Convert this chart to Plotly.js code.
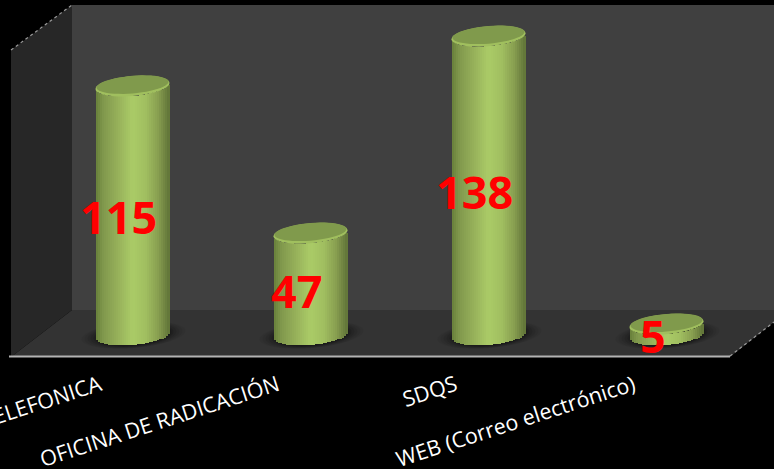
<!DOCTYPE html>
<html>
<head>
<meta charset="utf-8">
<script src="https://cdn.plot.ly/plotly-3.0.1.min.js"></script>
<style>html,body{margin:0;padding:0;background:#000;overflow:hidden}#chart{width:774px;height:469px}</style>
</head>
<body>
<div id="chart"></div>
<script>
var categories = ['TELEFONICA', 'OFICINA DE RADICACIÓN', 'SDQS', 'WEB (Correo electrónico)'];
var values = [115, 47, 138, 5];
var positions = [0, 1, 2, 3];

// Cross-section shading of the cylinders, left edge to right edge
var shadeStops = [[0,[104,128,58]],[0.1,[128,152,76]],[0.3,[150,176,90]],[0.5,[170,203,103]],[0.68,[160,190,96]],[0.85,[136,158,80]],[1,[96,116,56]]];

var W = 774, H = 469, plotH = 357;
var pxPerCat = 178, pxPerUnit = 2.165;
var firstCatPx = 132.5, zeroPx = 335;
var radX = 37, radY = 10, tilt = -3;
var stripCount = 36;

function shade(t) {
  for (var i = 1; i < shadeStops.length; i++) {
    if (t <= shadeStops[i][0]) {
      var a = shadeStops[i-1], b = shadeStops[i], f = (t-a[0])/(b[0]-a[0]);
      return 'rgb(' + a[1].map(function(c,k){return Math.round(c+(b[1][k]-c)*f);}).join(',') + ')';
    }
  }
  return 'rgb(96,116,56)';
}

var traces = [];
for (var s = 0; s < stripCount; s++) {
  var t0 = s/stripCount, t1 = (s+1)/stripCount, tm = (t0+t1)/2, u = tm*2-1;
  var dropPx = radY*Math.sqrt(Math.max(0,1-u*u)) + tilt*u;
  traces.push({
    type: 'bar',
    x: positions,
    y: values,
    base: values.map(function(){return -dropPx/pxPerUnit;}),
    width: (t1-t0)*2*radX/pxPerCat*1.12,
    offset: (u*radX)/pxPerCat - (t1-t0)*radX/pxPerCat,
    marker: {color: shade(tm), line: {width: 0}},
    hoverinfo: 'skip',
    showlegend: false
  });
}

function px(x){return x/W;}
function py(y){return (plotH-y)/plotH;}
function poly(pts){
  return 'M' + pts.map(function(p){return px(p[0])+','+py(p[1]);}).join('L') + 'Z';
}
function backdrop(pts,color){
  return {type:'path',xref:'paper',yref:'paper',layer:'below',path:poly(pts),fillcolor:color,line:{width:0}};
}
function edge(x0,y0,x1,y1,color,width,dash){
  return {type:'line',xref:'paper',yref:'paper',layer:'below',x0:px(x0),y0:py(y0),x1:px(x1),y1:py(y1),line:{color:color,width:width,dash:dash||'solid'}};
}
function ellipse(cat,val,rx,ry,dxPx,dyPx,color,layer,opacity){
  var d = '';
  for (var k = 0; k < 48; k++) {
    var a = k/48*2*Math.PI;
    var ex = rx*Math.cos(a) + dxPx, ey = ry*Math.sin(a) + tilt*(rx/radX)*Math.cos(a) + dyPx;
    d += (k?'L':'M') + (cat+ex/pxPerCat) + ',' + (val-ey/pxPerUnit);
  }
  return {type:'path',xref:'x',yref:'y',layer:layer,path:d+'Z',fillcolor:color,opacity:opacity,line:{width:0}};
}

var shapes = [
  backdrop([[72,5],[W,5],[W,310],[72,310]],'#404040'),
  backdrop([[72,310],[W,310],[W,322],[730,357],[11,357]],'#333333'),
  backdrop([[11,50],[72,5],[72,310],[11,357]],'#272727'),
  edge(11,50,72,5,'#9a9a9a',1.2,'dot'),
  edge(730,356,W,322,'#9a9a9a',1.2,'dot'),
  edge(9,356.5,730,356.5,'#b4b4b4',2)
];
positions.forEach(function(c,i){
  [[15,3,0.05],[12,3,0.06],[9,2.5,0.07],[6,2,0.09],[3,1.5,0.11],[1,1,0.14]].forEach(function(g){
    shapes.push(ellipse(c,0,radX+g[0],radY+g[1],1,0,'#000000','below',g[2]));
  });
  shapes.push(ellipse(c,values[i],radX,radY,0,0,'#a0bf5e','above',1));
  shapes.push(ellipse(c,values[i],radX-1,radY-1.2,0,-1.4,'#809a4c','above',1));
});

var annotations = positions.map(function(c,i){
  return {x:c,y:values[i]/2,xref:'x',yref:'y',text:String(values[i]),showarrow:false,
    xshift:-14,yshift:-6,font:{family:'"Open Sans", sans-serif',size:45,color:'#ff0000',weight:700}};
});

var layout = {
  width: W, height: H,
  margin: {l:0,r:0,t:0,b:H-plotH,pad:0},
  paper_bgcolor:'#000000', plot_bgcolor:'#000000',
  barmode:'overlay', showlegend:false,
  bargap:0,
  xaxis:{type:'linear',range:[-firstCatPx/pxPerCat,(W-firstCatPx)/pxPerCat],
    tickmode:'array',tickvals:positions,ticktext:categories,tickangle:-18,
    ticklabelshift:-33,ticklabelstandoff:11,ticklabeloverflow:'allow',
    tickfont:{family:'"Open Sans", sans-serif',size:21.5,color:'#ffffff'},
    showgrid:false,zeroline:false,showline:false,ticks:'',fixedrange:true,automargin:false},
  yaxis:{range:[(zeroPx-plotH)/pxPerUnit,zeroPx/pxPerUnit],visible:false,showgrid:false,zeroline:false,fixedrange:true},
  shapes:shapes, annotations:annotations
};
Plotly.newPlot('chart',traces,layout,{displayModeBar:false,staticPlot:true});
</script>
</body>
</html>
